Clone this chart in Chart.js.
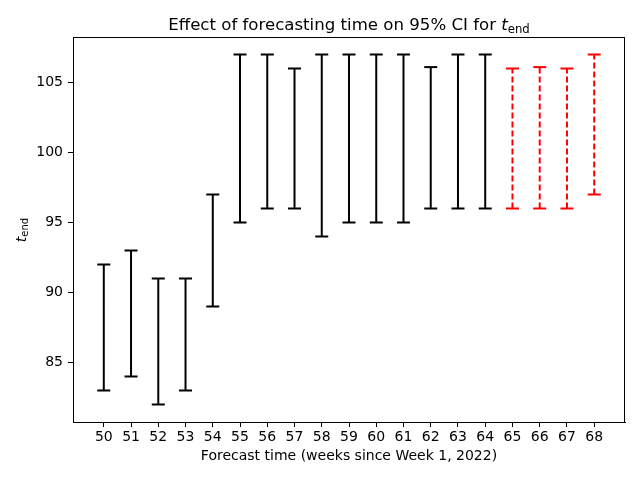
<!DOCTYPE html>
<html>
<head>
<meta charset="utf-8">
<script src="https://cdn.jsdelivr.net/npm/chart.js@4.4.0/dist/chart.umd.min.js"></script>
<style>
  html, body { margin: 0; padding: 0; background: #fff; }
  #wrap { width: 640px; height: 480px; position: relative; }
</style>
</head>
<body>
<div id="wrap"><canvas id="chart"></canvas></div>
<script>
// ── Data ──────────────────────────────────────────────────────────────
const weeks = [50, 51, 52, 53, 54, 55, 56, 57, 58, 59, 60, 61, 62, 63, 64, 65, 66, 67, 68];
const lower = [83, 84, 82, 83, 89, 95, 96, 96, 94, 95, 95, 95, 96, 96, 96, 96, 96, 96, 97];
const upper = [92, 93, 91, 91, 97, 107, 107, 106, 107, 107, 107, 107, 106.1, 107, 107, 106, 106.1, 106, 107];
const firstProjected = 65;   // weeks from here on are drawn red, dashed
const yTicks = [85, 90, 95, 100, 105];

const FONT = 'DejaVu Sans';

// Each CI becomes two points (low, high) followed by a gap
function ciSeries(keep) {
  const pts = [];
  weeks.forEach((w, i) => {
    if (!keep(w)) return;
    pts.push({ x: w, y: lower[i] }, { x: w, y: upper[i] }, { x: w, y: null });
  });
  return pts;
}

function ciDataset(data, color, dash) {
  return {
    data,
    showLine: true,
    spanGaps: false,
    borderColor: color,
    borderWidth: 2,
    borderDash: dash,
    pointStyle: 'line',
    pointRadius: 6.5,
    pointHoverRadius: 6.5,
    pointBorderColor: color,
    pointBorderWidth: 2,
  };
}

// ── Frame + mathtext-ish labels ───────────────────────────────────────
const decor = {
  id: 'decor',
  afterDraw(chart) {
    const { ctx, chartArea: a } = chart;
    ctx.save();
    ctx.strokeStyle = '#000';
    ctx.lineWidth = 1;
    ctx.strokeRect(a.left + 0.5, a.top + 0.5, a.right - a.left - 1, a.bottom - a.top);

    ctx.fillStyle = '#000';
    ctx.textBaseline = 'alphabetic';

    // title
    const main = 'Effect of forecasting time on 95% CI for ';
    ctx.font = `16.6px "${FONT}"`;
    const wMain = ctx.measureText(main).width;
    ctx.font = `italic 16.6px "${FONT}"`;
    const wT = ctx.measureText('t').width;
    ctx.font = `11.7px "${FONT}"`;
    const wSub = ctx.measureText('end').width;
    let x = (a.left + a.right) / 2 - (wMain + wT + wSub) / 2;
    const by = 30;
    ctx.textAlign = 'left';
    ctx.font = `16.6px "${FONT}"`;
    ctx.fillText(main, x, by);
    x += wMain;
    ctx.font = `italic 16.6px "${FONT}"`;
    ctx.fillText('t', x, by);
    x += wT;
    ctx.font = `11.7px "${FONT}"`;
    ctx.fillText('end', x, by + 2.5);

    // x label
    ctx.font = `14px "${FONT}"`;
    ctx.textAlign = 'center';
    ctx.fillText('Forecast time (weeks since Week 1, 2022)', (a.left + a.right) / 2, 460);

    // y label (rotated)
    ctx.translate(26, 230);
    ctx.rotate(-Math.PI / 2);
    ctx.font = `italic 14px "${FONT}"`;
    const yt = ctx.measureText('t').width;
    ctx.font = `10px "${FONT}"`;
    const ys = ctx.measureText('end').width;
    let yx = -(yt + ys) / 2;
    ctx.textAlign = 'left';
    ctx.font = `italic 14px "${FONT}"`;
    ctx.fillText('t', yx, 0);
    yx += yt;
    ctx.font = `10px "${FONT}"`;
    ctx.fillText('end', yx, 2.2);
    ctx.restore();
  }
};

new Chart(document.getElementById('chart'), {
  type: 'scatter',
  data: {
    datasets: [
      ciDataset(ciSeries(w => w < firstProjected), '#000000', []),
      ciDataset(ciSeries(w => w >= firstProjected), '#ff0000', [6, 3]),
    ]
  },
  options: {
    responsive: true,
    maintainAspectRatio: false,
    animation: false,
    layout: { padding: { top: 37, right: 15, left: 0, bottom: 0 } },
    plugins: {
      legend: { display: false },
      tooltip: { enabled: false },
    },
    scales: {
      x: {
        type: 'linear',
        min: 48.87,
        max: 69.13,
        afterBuildTicks: s => { s.ticks = weeks.map(v => ({ value: v })); },
        afterFit: s => { s.height = 58; },
        grid: { drawOnChartArea: false, drawTicks: true, tickLength: 5, color: '#000' },
        border: { color: '#000', width: 1 },
        ticks: {
          color: '#000',
          font: { family: FONT, size: 14 },
          padding: 2,
          maxRotation: 0,
          autoSkip: false,
        },
      },
      y: {
        min: 80.75,
        max: 108.25,
        afterBuildTicks: s => { s.ticks = yTicks.map(v => ({ value: v })); },
        afterFit: s => { s.width = 73; },
        grid: { drawOnChartArea: false, drawTicks: true, tickLength: 5, color: '#000' },
        border: { color: '#000', width: 1 },
        ticks: {
          color: '#000',
          font: { family: FONT, size: 14 },
          padding: 5,
        },
      }
    }
  },
  plugins: [decor]
});
</script>
</body>
</html>
